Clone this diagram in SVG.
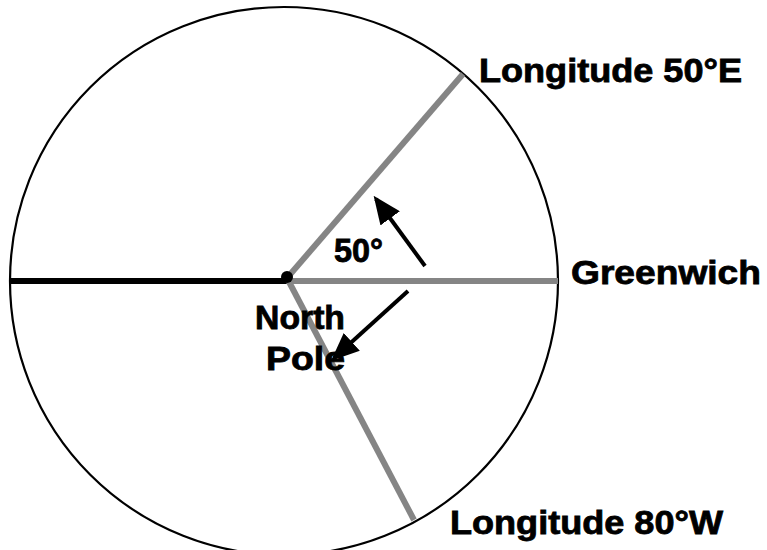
<svg xmlns="http://www.w3.org/2000/svg" width="767" height="550" viewBox="0 0 767 550">
<style>
.lbl{font-family:"Liberation Sans",Arial,sans-serif;font-weight:bold;font-size:33px;fill:#000;stroke:#000;stroke-width:0.8}
.mer{stroke:#858585;stroke-width:6;fill:none}
.arr{stroke:#000;stroke-width:4;fill:none;marker-end:url(#ah)}
</style>
<defs>
<marker id="ah" markerWidth="7" markerHeight="6" refX="6" refY="3" orient="auto" markerUnits="strokeWidth">
<path d="M0,0 L7,3 L0,6 Z" fill="#000"/>
</marker>
</defs>
<rect width="767" height="550" fill="#fff"/>
<g id="globe">
<circle cx="284" cy="281" r="274" fill="none" stroke="#000" stroke-width="2.2"/>
</g>
<g id="connectors">
<line x1="10" y1="281" x2="287" y2="281" stroke="#000" stroke-width="6"/>
<line class="mer" x1="287" y1="281" x2="558" y2="281"/>
<line class="mer" x1="287" y1="278" x2="463" y2="74"/>
<line class="mer" x1="287" y1="278" x2="414" y2="520"/>
<line class="arr" x1="425" y1="266" x2="376" y2="199"/>
<line class="arr" x1="408" y1="291" x2="334" y2="358"/>
</g>
<g id="pole">
<circle cx="287" cy="277" r="6" fill="#000"/>
</g>
<g id="labels">
<text class="lbl" x="334" y="262" textLength="49" lengthAdjust="spacingAndGlyphs">50°</text>
<text class="lbl" x="255" y="329" textLength="90" lengthAdjust="spacingAndGlyphs">North</text>
<text class="lbl" x="266" y="370" textLength="79" lengthAdjust="spacingAndGlyphs">Pole</text>
<text class="lbl" x="479" y="82" textLength="263" lengthAdjust="spacingAndGlyphs">Longitude 50°E</text>
<text class="lbl" x="571" y="284" textLength="190" lengthAdjust="spacingAndGlyphs">Greenwich</text>
<text class="lbl" x="450" y="534" textLength="273" lengthAdjust="spacingAndGlyphs">Longitude 80°W</text>
</g>
</svg>
